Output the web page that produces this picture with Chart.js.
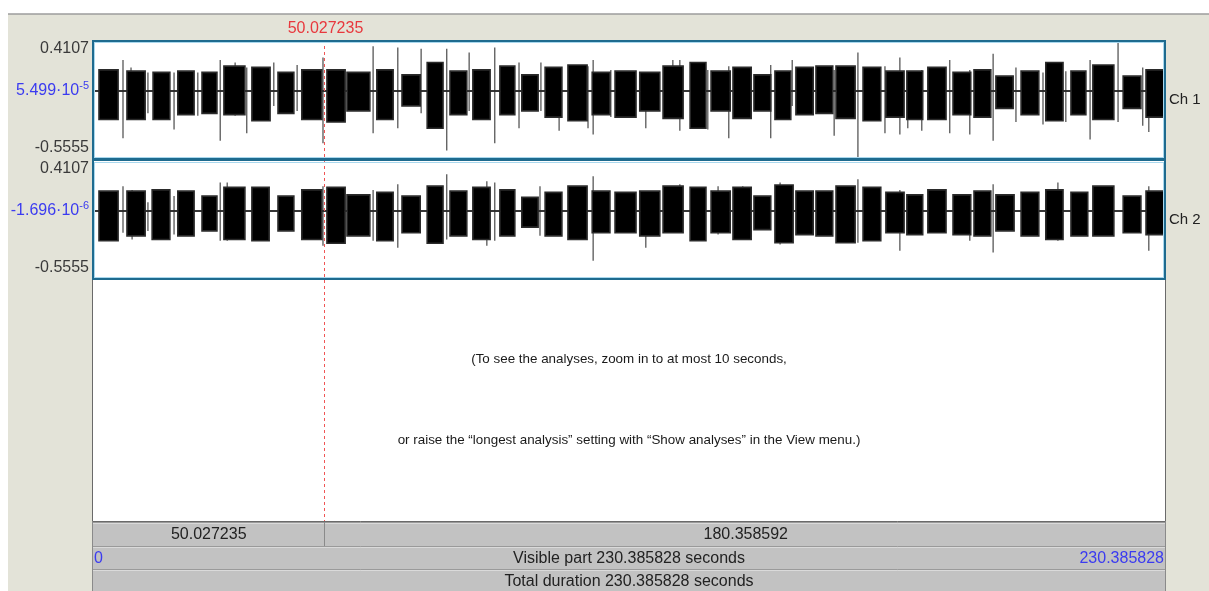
<!DOCTYPE html>
<html>
<head>
<meta charset="utf-8">
<script src="https://cdn.jsdelivr.net/npm/chart.js@4/dist/chart.umd.min.js"></script>
<style>
  html, body { margin: 0; padding: 0; background: #fff; }
  body { width: 1209px; height: 591px; position: relative; overflow: hidden; }
  canvas { position: absolute; left: 0; }
  #ch1 { top: 0; }
  #ch2 { top: 160px; }
</style>
</head>
<body>
<canvas id="ch1" width="1209" height="160"></canvas>
<canvas id="ch2" width="1209" height="431"></canvas>
<script>
// sound editor values
const totalDuration = 230.385828;
const cursorTime = 50.027235;
const segmentLabels = ['50.027235', '180.358592'];
const ampRange = [-0.5555, 0.4107];
const ampLabels = ['0.4107', '-0.5555'];
const midLabels = [['5.499\u00B710', '-5'], ['-1.696\u00B710', '-6']];
const channelNames = ['Ch 1', 'Ch 2'];
const hintLines = [
  '(To see the analyses, zoom in to at most 10 seconds,',
  'or raise the \u201Clongest analysis\u201D setting with \u201CShow analyses\u201D in the View menu.)'
];

// bursts: [start s, end s, upper envelope, lower envelope]
const ch1Bursts = [
  [1.5, 5.6, 0.17, -0.23], [7.5, 11.4, 0.16, -0.23], [13.1, 16.7, 0.15, -0.23],
  [18.4, 21.9, 0.16, -0.19], [23.6, 26.8, 0.15, -0.18], [28.3, 32.8, 0.20, -0.19],
  [34.3, 38.2, 0.19, -0.24], [39.9, 43.3, 0.15, -0.18], [45.0, 49.3, 0.17, -0.23],
  [50.4, 54.3, 0.17, -0.25], [54.7, 59.6, 0.15, -0.16], [61.1, 64.6, 0.17, -0.23],
  [66.5, 70.4, 0.13, -0.12], [71.9, 75.3, 0.23, -0.30], [76.8, 80.4, 0.16, -0.19],
  [81.7, 85.4, 0.17, -0.23], [87.5, 90.7, 0.20, -0.19], [92.2, 95.7, 0.13, -0.16],
  [97.2, 100.8, 0.19, -0.21], [102.1, 106.2, 0.21, -0.24], [107.3, 111.1, 0.15, -0.19],
  [112.2, 116.7, 0.16, -0.21], [117.5, 121.8, 0.15, -0.16], [122.5, 126.8, 0.20, -0.22],
  [128.3, 131.7, 0.23, -0.30], [132.8, 136.9, 0.16, -0.16], [137.5, 141.4, 0.19, -0.22],
  [142.0, 145.6, 0.13, -0.16], [146.5, 149.9, 0.16, -0.23], [151.0, 154.7, 0.19, -0.19],
  [155.3, 158.9, 0.20, -0.18], [159.6, 163.7, 0.20, -0.22], [165.4, 169.2, 0.19, -0.24],
  [170.3, 174.2, 0.16, -0.21], [174.8, 178.2, 0.16, -0.23], [179.3, 183.2, 0.19, -0.23],
  [184.7, 188.5, 0.15, -0.19], [189.2, 192.8, 0.17, -0.21], [193.9, 197.6, 0.12, -0.14],
  [199.3, 203.1, 0.16, -0.19], [204.6, 208.3, 0.23, -0.24], [210.0, 213.2, 0.16, -0.19],
  [214.7, 219.2, 0.21, -0.23], [221.2, 225.0, 0.12, -0.14], [226.1, 230.2, 0.17, -0.21]
];
// single peaks: [time s, top, bottom]
const ch1Spikes = [
  [6.65, 0.25, -0.38], [8.37, 0.19, -0.20], [12.0, 0.15, -0.18], [17.6, 0.15, -0.31],
  [22.7, 0.15, -0.20], [27.5, 0.25, -0.40], [30.7, 0.23, -0.20], [33.2, 0.19, -0.34],
  [39.0, 0.23, -0.12], [44.0, 0.21, -0.16], [45.7, 0.17, -0.23], [49.55, 0.27, -0.42],
  [60.3, 0.36, -0.34], [65.6, 0.35, -0.30], [70.6, 0.34, -0.18], [76.1, 0.34, -0.48],
  [80.9, 0.31, -0.16], [86.4, 0.35, -0.42], [91.6, 0.23, -0.30], [96.3, 0.23, -0.16],
  [100.2, 0.17, -0.32], [106.4, 0.20, -0.30], [107.5, 0.25, -0.35], [111.3, 0.17, -0.21],
  [118.8, 0.15, -0.30], [124.6, 0.25, -0.20], [126.1, 0.25, -0.32], [132.1, 0.17, -0.31],
  [136.6, 0.20, -0.38], [145.6, 0.21, -0.38], [150.2, 0.25, -0.12], [159.2, 0.17, -0.36],
  [164.3, 0.31, -0.5555], [170.1, 0.20, -0.34], [173.3, 0.27, -0.35], [175.0, 0.15, -0.30],
  [178.0, 0.17, -0.32], [184.0, 0.25, -0.34], [188.3, 0.17, -0.35], [193.3, 0.30, -0.40],
  [198.2, 0.19, -0.25], [204.0, 0.15, -0.27], [208.9, 0.16, -0.25], [214.1, 0.25, -0.39],
  [220.1, 0.4107, -0.25], [225.4, 0.19, -0.28], [226.7, 0.17, -0.33]
];

const ch2Bursts = [
  [1.5, 5.6, 0.16, -0.24], [7.5, 11.4, 0.16, -0.20], [12.9, 16.7, 0.17, -0.23],
  [18.4, 21.9, 0.16, -0.20], [23.6, 26.8, 0.12, -0.16], [28.3, 32.8, 0.19, -0.23],
  [34.3, 38.0, 0.19, -0.24], [39.9, 43.3, 0.12, -0.16], [45.0, 49.3, 0.17, -0.23],
  [50.4, 54.3, 0.19, -0.26], [54.7, 59.6, 0.13, -0.20], [61.1, 64.6, 0.15, -0.24],
  [66.5, 70.4, 0.12, -0.175], [71.9, 75.3, 0.20, -0.26], [76.8, 80.4, 0.16, -0.20],
  [81.7, 85.4, 0.19, -0.23], [87.5, 90.7, 0.17, -0.20], [92.2, 95.7, 0.11, -0.13],
  [97.2, 100.8, 0.15, -0.20], [102.1, 106.2, 0.20, -0.23], [107.3, 111.1, 0.16, -0.175],
  [112.2, 116.7, 0.15, -0.175], [117.5, 121.8, 0.16, -0.20], [122.5, 126.8, 0.20, -0.175],
  [128.3, 131.7, 0.19, -0.24], [132.8, 136.9, 0.16, -0.175], [137.5, 141.4, 0.19, -0.23],
  [142.0, 145.6, 0.12, -0.15], [146.5, 150.4, 0.21, -0.255], [151.0, 154.7, 0.16, -0.19],
  [155.3, 158.9, 0.16, -0.20], [159.6, 163.7, 0.20, -0.255], [165.4, 169.2, 0.19, -0.24],
  [170.3, 174.2, 0.15, -0.175], [174.8, 178.2, 0.13, -0.19], [179.3, 183.2, 0.17, -0.175],
  [184.7, 188.5, 0.13, -0.19], [189.2, 192.8, 0.16, -0.20], [193.9, 197.8, 0.13, -0.16],
  [199.3, 203.1, 0.15, -0.20], [204.6, 208.3, 0.17, -0.23], [210.0, 213.6, 0.15, -0.20],
  [214.7, 219.2, 0.20, -0.20], [221.2, 225.0, 0.12, -0.175], [226.1, 230.2, 0.16, -0.19]
];
const ch2Spikes = [
  [6.65, 0.20, -0.175], [8.6, 0.17, -0.23], [12.0, 0.07, -0.16], [17.6, 0.12, -0.19],
  [27.5, 0.23, -0.24], [29.0, 0.23, -0.24], [49.55, 0.20, -0.28], [60.3, 0.17, -0.24],
  [65.6, 0.215, -0.295], [76.1, 0.295, -0.23], [84.7, 0.24, -0.28], [86.4, 0.23, -0.24],
  [96.1, 0.20, -0.20], [107.5, 0.28, -0.40], [118.8, 0.16, -0.295], [126.1, 0.215, -0.175],
  [134.3, 0.20, -0.19], [139.6, 0.20, -0.23], [147.6, 0.23, -0.27], [164.3, 0.255, -0.255],
  [173.3, 0.17, -0.32], [188.3, 0.13, -0.24], [193.3, 0.215, -0.335], [207.2, 0.23, -0.24],
  [226.7, 0.20, -0.32]
];

const FONT = '"Liberation Sans", Arial, sans-serif';
const BEIGE = '#e3e3d8';
const BLUE = '#3b3bf0';

function envelope(bursts, k) {
  const pts = [{x: 0, y: 0}];
  bursts.forEach(b => {
    pts.push({x: b[0], y: 0}, {x: b[0], y: b[k]}, {x: b[1], y: b[k]}, {x: b[1], y: 0});
  });
  pts.push({x: totalDuration, y: 0});
  return pts;
}

function spikeLines(spikes) {
  const pts = [];
  spikes.forEach(s => pts.push({x: s[0], y: s[1]}, {x: s[0], y: s[2]}, {x: s[0], y: null}));
  return pts;
}

function text(ctx, str, x, y, align, color, size) {
  ctx.font = size + 'px ' + FONT;
  ctx.fillStyle = color;
  ctx.textAlign = align;
  ctx.textBaseline = 'middle';
  ctx.fillText(str, x, y);
}

// panel outline: dark teal with a light blue inner line
function frame(ctx, a, ch) {
  const w = a.right - a.left, h = a.bottom - a.top;
  ctx.save();
  ctx.fillStyle = '#a9d8ee';
  ctx.fillRect(a.left + 2, a.top + 2, w - 4, 1);
  ctx.fillRect(a.left + 2, a.bottom - 3, w - 4, 1);
  ctx.fillRect(a.left + 2, a.top + 2, 1, h - 4);
  ctx.fillRect(a.right - 3, a.top + 2, 1, h - 4);
  ctx.fillStyle = '#1f6b8f';
  const t = ch === 0 ? 2 : 1;
  ctx.fillRect(a.left, a.top, w, t);
  ctx.fillRect(a.left, a.bottom - 2, w, 2);
  ctx.fillRect(a.left, a.top, 2, h);
  ctx.fillRect(a.right - 2, a.top, 2, h);
  ctx.restore();
}

function channelDecor(ch) {
  return {
    id: 'decor' + ch,
    beforeDraw(chart) {
      const ctx = chart.ctx, a = chart.chartArea, W = chart.width, H = chart.height;
      ctx.save();
      ctx.fillStyle = '#fff';
      ctx.fillRect(0, 0, W, H);
      ctx.fillStyle = BEIGE;
      if (ch === 0) {
        ctx.fillRect(8, 14, W - 8, H - 14);
        ctx.strokeStyle = '#9c9c9c';
        ctx.lineWidth = 1.5;
        ctx.beginPath(); ctx.moveTo(8, 14); ctx.lineTo(W, 14); ctx.stroke();
      } else {
        ctx.fillRect(8, 0, W - 8, H);
      }
      ctx.fillStyle = '#fff';
      ctx.fillRect(a.left, a.top, a.right - a.left, a.bottom - a.top);
      ctx.restore();
    },
    afterDatasetsDraw(chart) {
      const ctx = chart.ctx, a = chart.chartArea;
      const xs = chart.scales.x, ys = chart.scales.y;
      const cx = Math.round(xs.getPixelForValue(cursorTime)) + 0.5;
      ctx.save();

      if (ch === 1) {
        // analysis area below the waveform
        const bot = a.bottom + 241;
        ctx.fillStyle = '#fff';
        ctx.fillRect(a.left, a.bottom, a.right - a.left, bot - a.bottom);
        ctx.strokeStyle = '#6a6a6a';
        ctx.lineWidth = 1;
        ctx.beginPath();
        ctx.moveTo(a.left + 0.5, a.bottom); ctx.lineTo(a.left + 0.5, bot + 0.5);
        ctx.lineTo(a.right - 0.5, bot + 0.5); ctx.lineTo(a.right - 0.5, a.bottom);
        ctx.stroke();
        const mid = (a.left + a.right) / 2;
        text(ctx, hintLines[0], mid, a.bottom + 79, 'center', '#1a1a1a', 13.4);
        text(ctx, hintLines[1], mid, a.bottom + 160, 'center', '#1a1a1a', 13.4);

        // time bars
        const rows = [bot + 1, bot + 25, bot + 48, bot + 71];
        for (let r = 0; r < 3; r++) {
          ctx.fillStyle = '#c2c2c2';
          ctx.fillRect(a.left, rows[r], a.right - a.left, rows[r + 1] - rows[r]);
          ctx.strokeStyle = '#9a9a9a';
          ctx.beginPath(); ctx.moveTo(a.left, rows[r] + 0.5); ctx.lineTo(a.right, rows[r] + 0.5); ctx.stroke();
          ctx.strokeStyle = '#dadada';
          ctx.beginPath(); ctx.moveTo(a.left, rows[r] + 1.5); ctx.lineTo(a.right, rows[r] + 1.5); ctx.stroke();
        }
        ctx.strokeStyle = '#8a8a8a';
        ctx.beginPath();
        ctx.moveTo(a.left + 0.5, rows[0]); ctx.lineTo(a.left + 0.5, rows[3]);
        ctx.moveTo(a.right - 0.5, rows[0]); ctx.lineTo(a.right - 0.5, rows[3]);
        ctx.moveTo(cx - 1, rows[0]); ctx.lineTo(cx - 1, rows[1]);
        ctx.stroke();
        const c0 = (rows[0] + rows[1]) / 2 + 1, c1 = (rows[1] + rows[2]) / 2 + 1, c2 = (rows[2] + rows[3]) / 2 + 1;
        text(ctx, segmentLabels[0], (a.left + cx) / 2, c0, 'center', '#222', 16);
        text(ctx, segmentLabels[1], (cx + a.right) / 2, c0, 'center', '#222', 16);
        text(ctx, '0', xs.getPixelForValue(0) + 2, c1, 'left', BLUE, 16);
        text(ctx, 'Visible part ' + totalDuration.toFixed(6) + ' seconds', mid, c1, 'center', '#222', 16);
        text(ctx, totalDuration.toFixed(6), xs.getPixelForValue(totalDuration) - 2, c1, 'right', BLUE, 16);
        text(ctx, 'Total duration ' + totalDuration.toFixed(6) + ' seconds', mid, c2, 'center', '#222', 16);

        // cursor through analysis area
        ctx.strokeStyle = '#f05555';
        ctx.lineWidth = 1;
        ctx.setLineDash([3, 3]);
        ctx.beginPath(); ctx.moveTo(cx - 1, a.bottom); ctx.lineTo(cx - 1, bot); ctx.stroke();
        ctx.setLineDash([]);
      } else {
        text(ctx, cursorTime.toFixed(6), cx, 29, 'center', '#e8383d', 16);
      }

      // cursor through the waveform
      ctx.strokeStyle = '#f05555';
      ctx.lineWidth = 1;
      ctx.setLineDash([3, 3]);
      ctx.beginPath(); ctx.moveTo(cx - 1, a.top); ctx.lineTo(cx - 1, a.bottom); ctx.stroke();
      ctx.setLineDash([]);

      frame(ctx, a, ch);

      // amplitude labels
      text(ctx, ampLabels[0], 89, a.top + 9, 'right', '#3a3a3a', 16);
      text(ctx, ampLabels[1], 89, a.bottom - 12, 'right', '#3a3a3a', 16);
      const y0 = ys.getPixelForValue(0);
      ctx.font = '11px ' + FONT;
      const supW = ctx.measureText(midLabels[ch][1]).width;
      text(ctx, midLabels[ch][1], 89, y0 - 5, 'right', BLUE, 11);
      text(ctx, midLabels[ch][0], 89 - supW, y0, 'right', BLUE, 16);

      text(ctx, channelNames[ch], a.right + 3, (a.top + a.bottom) / 2, 'left', '#222', 15);
      ctx.restore();
    }
  };
}

function makeChart(id, bursts, spikes, ch, padding) {
  return new Chart(document.getElementById(id), {
    type: 'line',
    data: {
      datasets: [
        {data: envelope(bursts, 2), borderColor: '#2a2a2a', borderWidth: 1.6, backgroundColor: '#000', fill: 'origin'},
        {data: envelope(bursts, 3), borderColor: '#2a2a2a', borderWidth: 1.6, backgroundColor: '#000', fill: 'origin'},
        {data: spikeLines(spikes), borderColor: '#4a4a4a', borderWidth: 1.2, fill: false, spanGaps: false}
      ]
    },
    options: {
      responsive: false,
      animation: false,
      events: [],
      layout: {padding: padding},
      elements: {point: {radius: 0}, line: {tension: 0}},
      plugins: {legend: {display: false}, tooltip: {enabled: false}},
      scales: {
        x: {type: 'linear', min: 0, max: totalDuration, display: false},
        y: {min: ampRange[0], max: ampRange[1], display: false}
      }
    },
    plugins: [channelDecor(ch)]
  });
}

makeChart('ch1', ch1Bursts, ch1Spikes, 0, {left: 92, right: 43, top: 40, bottom: 0});
makeChart('ch2', ch2Bursts, ch2Spikes, 1, {left: 92, right: 43, top: 0, bottom: 311});
</script>
</body>
</html>
